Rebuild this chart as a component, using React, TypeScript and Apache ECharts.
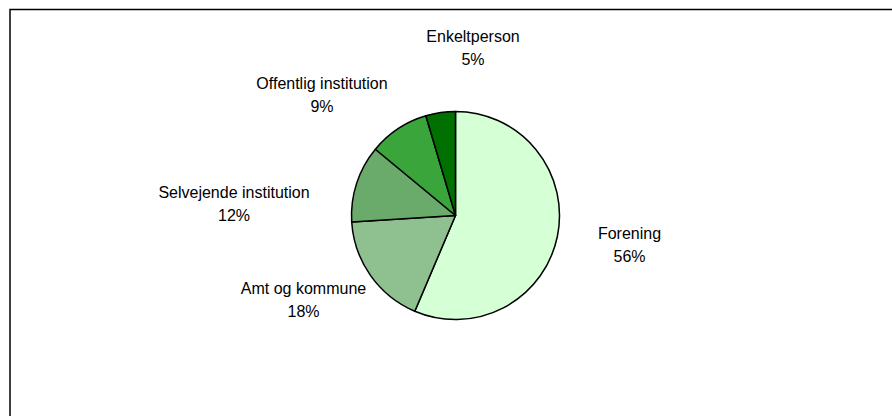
import React, { useEffect, useRef } from "react";
import * as echarts from "echarts";

const categories = ["Forening", "Amt og kommune", "Selvejende institution", "Offentlig institution", "Enkeltperson"];
const shares = [56.4, 17.6, 12.0, 9.4, 4.6];
const sliceColors = ["#D5FFD5", "#8FC08F", "#6AAA6A", "#3AA53A", "#007000"];

// label anchor offsets relative to the pie centre (layout only)
const labelOffsets: [number, number][] = [
  [174, 29],
  [-152, 84],
  [-221.5, -12],
  [-133.5, -120.5],
  [17.5, -167.5],
];

const CX = 455.5;
const CY = 215.5;
const R = 104;

export default function App() {
  const ref = useRef<HTMLDivElement>(null);
  useEffect(() => {
    if (!ref.current) return;
    const chart = echarts.init(ref.current, undefined, { renderer: "svg" });
    chart.setOption({
      animation: false,
      backgroundColor: "#ffffff",
      graphic: [
        {
          type: "rect",
          shape: { x: 10, y: 9.5, width: 1000, height: 1000 },
          style: { fill: "none", stroke: "#000", lineWidth: 1.5 },
          silent: true,
        },
      ],
      series: [
        {
          type: "pie",
          center: [CX, CY],
          radius: R,
          startAngle: 90,
          clockwise: true,
          data: categories.map((name, i) => ({
            name,
            value: shares[i],
            itemStyle: { color: sliceColors[i] },
          })),
          itemStyle: { borderColor: "#000", borderWidth: 1.5 },
          label: {
            show: true,
            position: "outside",
            formatter: (p: any) => `${p.name}\n${Math.round(p.percent)}%`,
            fontFamily: "Liberation Sans, Arial, sans-serif",
            fontSize: 16,
            lineHeight: 23,
            color: "#000",
            align: "center",
          },
          labelLine: { show: false },
          labelLayout: (params: any) => {
            const o = labelOffsets[params.dataIndex];
            return {
              x: CX + o[0],
              y: CY + o[1],
              align: "center",
              verticalAlign: "middle",
            };
          },
          emphasis: { disabled: true },
        },
      ],
    });
    return () => chart.dispose();
  }, []);
  return (
    <div
      ref={ref}
      style={{ position: "fixed", left: 0, top: 0, width: 892, height: 416 }}
    />
  );
}
